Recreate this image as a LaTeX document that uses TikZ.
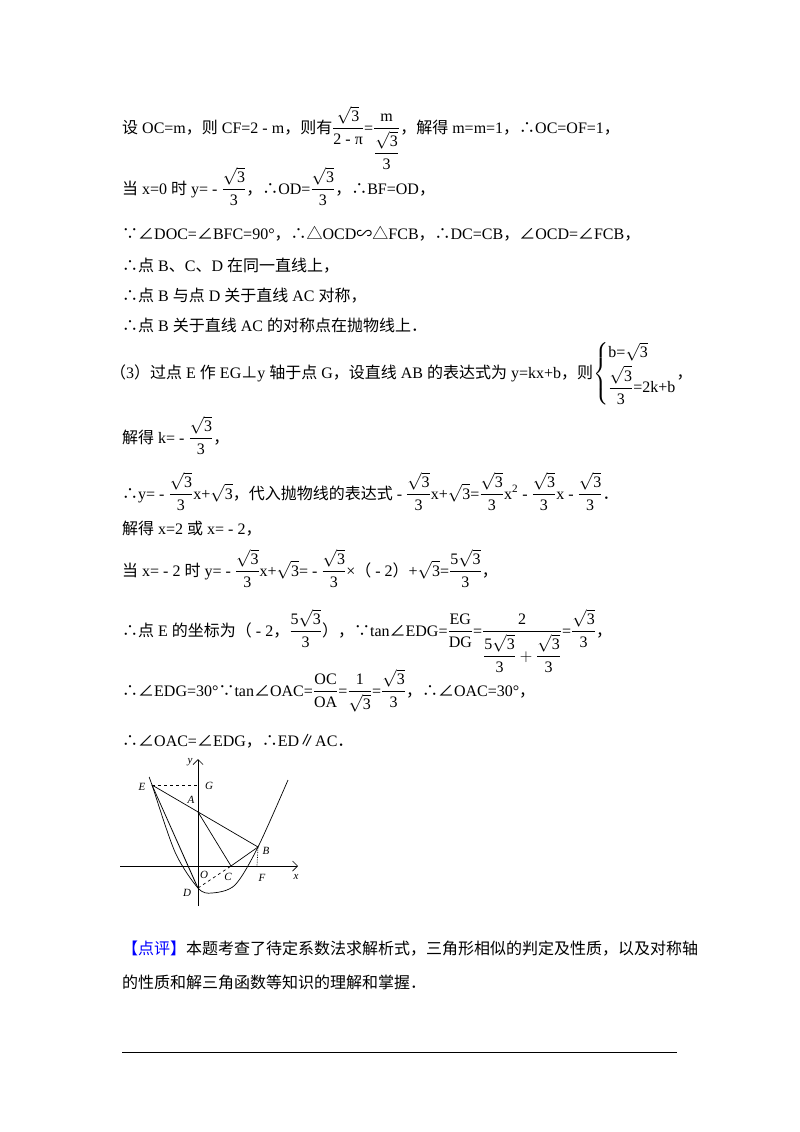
\documentclass[tikz,border=0pt]{standalone}
\usepackage{amsmath}
\usepackage{fontspec}
\usetikzlibrary{arrows.meta}
\setmainfont{Liberation Serif}
\newfontfamily\cjk{Noto Sans CJK SC}
\newcommand{\z}[1]{{\cjk #1}}
\newcommand{\fr}[2]{$\dfrac{\text{#1}}{\text{#2}}$}
\newcommand{\sq}{$\sqrt{\text{3}}$}
\newcommand{\sqt}{\fr{$\sqrt{\text{3}}$}{3}}
\begin{document}
\begin{tikzpicture}[x=1pt,y=-1pt,
  ln/.style={anchor=base west,inner sep=0pt,font=\fontsize{16}{19}\selectfont},
  lab/.style={font=\fontsize{11}{13}\selectfont\itshape,inner sep=0pt},
  fig/.style={line width=0.7pt}]
\useasboundingbox (0,0) rectangle (800,1132);
\fill[white] (0,0) rectangle (800,1132);
\node[ln] (l1) at (122,133) {\z{设} OC=m\z{，则} CF=2 - m\z{，则有}\fr{$\sqrt{\text{3}}$}{2 - π}=$\dfrac{\text{m}}{\dfrac{\sqrt{\text{3}}}{\text{3}}}$\z{，解得} m=m=1\z{，∴}OC=OF=1\z{，}};
\node[ln] (l2) at (122,194) {\z{当} x=0 \z{时} y= - \sqt\z{，∴}OD=\sqt\z{，∴}BF=OD\z{，}};
\node[ln] (l3) at (122,239) {\z{∵∠}DOC=\z{∠}BFC=90°\z{，∴△}OCD\z{∽△}FCB\z{，∴}DC=CB\z{，∠}OCD=\z{∠}FCB\z{，}};
\node[ln] (l4) at (122,271) {\z{∴点} B\z{、}C\z{、}D \z{在同一直线上，}};
\node[ln] (l5) at (122,301) {\z{∴点} B \z{与点} D \z{关于直线} AC \z{对称，}};
\node[ln] (l6) at (122,331) {\z{∴点} B \z{关于直线} AC \z{的对称点在抛物线上．}};
\node[ln] (l7) at (110,378) {\z{（}3\z{）过点} E \z{作} EG\z{⊥}y \z{轴于点} G\z{，设直线} AB \z{的表达式为} y=kx+b\z{，则}$\left\{\begin{array}{@{}l@{}}\text{b=}\sqrt{\text{3}}\\[2pt] \dfrac{\sqrt{\text{3}}}{\text{3}}\text{=2k+b}\end{array}\right.$\z{，}};
\node[ln] (l8) at (122,443) {\z{解得} k= - \sqt\z{，}};
\node[ln] (l9) at (122,499) {\z{∴}y= - \sqt x+\sq\z{，代入抛物线的表达式} - \sqt x+\sq=\sqt x$^{\text{2}}$ - \sqt x - \sqt\z{．}};
\node[ln] (l10) at (122,534) {\z{解得} x=2 \z{或} x= - 2\z{，}};
\node[ln] (l11) at (122,576) {\z{当} x= - 2 \z{时} y= - \sqt x+\sq= - \sqt×\z{（} - 2\z{）}+\sq=\fr{5$\sqrt{\text{3}}$}{3}\z{，}};
\node[ln] (l12) at (122,636) {\z{∴点} E \z{的坐标为（} - 2\z{，}\fr{5$\sqrt{\text{3}}$}{3}\z{），∵}tan\z{∠}EDG=\fr{EG}{DG}=$\dfrac{\text{2}}{\dfrac{\text{5}\sqrt{\text{3}}}{\text{3}}+\dfrac{\sqrt{\text{3}}}{\text{3}}}$=\sqt\z{，}};
\node[ln] (l13) at (122,696) {\z{∴∠}EDG=30°\z{∵}tan\z{∠}OAC=\fr{OC}{OA}=\fr{1}{$\sqrt{\text{3}}$}=\sqt\z{，∴∠}OAC=30°\z{，}};
\node[ln] (l14) at (122,746) {\z{∴∠}OAC=\z{∠}EDG\z{，∴}ED\z{∥}AC\z{．}};
\node[ln] (l15) at (122,954) {\z{\textcolor{blue}{【点评】}本题考查了待定系数法求解析式，三角形相似的判定及性质，以及对称轴}};
\node[ln] (l16) at (122,988) {\z{的性质和解三角函数等知识的理解和掌握．}};
\draw[line width=0.8pt] (122,1052) -- (677,1052);
% figure
\coordinate (O) at (198,866);
\coordinate (E) at (152,785);
\coordinate (G) at (198,785);
\coordinate (A) at (198,812);
\coordinate (B) at (258,847);
\coordinate (C) at (231,866);
\coordinate (F) at (257,866);
\coordinate (D) at (198,888);
\coordinate (D2) at (196,884);
\draw[fig,-{Straight Barb[length=5pt]}] (120,866) -- (298,866);
\draw[fig,-{Straight Barb[length=5pt]}] (198,906) -- (198,759);
\draw[fig] plot[smooth] coordinates {(149,777) (152,785) (175,852) (198,888) (212,893) (235,885) (258,847) (288,780)};
\draw[fig,dashed] (E) -- (G);
\draw[fig] (E) -- (B) (A) -- (C) -- (B) (E) -- (D) (E) -- (D2);
\draw[fig,dashed] (D) -- (C);
\draw[fig,densely dotted] (B) -- (F);
\node[lab] (ly) at (190,762) {y};
\node[lab] (lx) at (296,877) {x};
\node[lab] (lG) at (209,786) {G};
\node[lab] (lA) at (191,800) {A};
\node[lab] (lE) at (142,787) {E};
\node[lab] (lB) at (266,851) {B};
\node[lab] (lO) at (204,875) {O};
\node[lab] (lC) at (228,877) {C};
\node[lab] (lF) at (262,878) {F};
\node[lab] (lD) at (187,893) {D};
\end{tikzpicture}
\end{document}
